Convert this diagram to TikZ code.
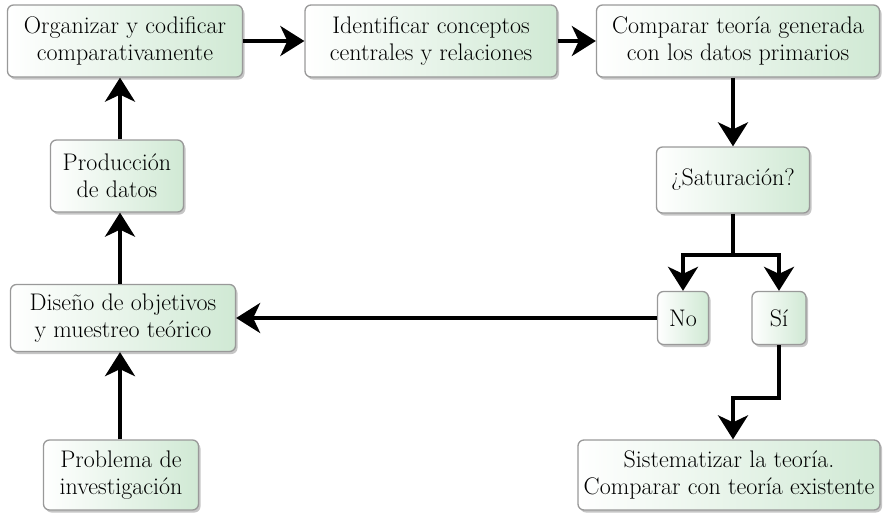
\documentclass[tikz,border=0pt]{standalone}
\usepackage{fontspec}
\usepackage{tikz}
\usetikzlibrary{shadows,arrows.meta,positioning}
\definecolor{verdeclaro}{RGB}{208,233,212}
\tikzstyle{caja}=[draw=gray!80, line width=1.3pt, rounded corners=6pt, left color=white, right color=verdeclaro, drop shadow={shadow xshift=2pt, shadow yshift=-2.5pt, opacity=0.45}, align=center, font=\fontsize{24}{27}\selectfont, inner sep=1pt]
\tikzstyle{arr}=[line width=3.8pt, -{Stealth[length=24pt,width=30pt,inset=7pt]}]

\begin{document}
\begin{tikzpicture}[x=1pt,y=-1pt]
	\useasboundingbox (0,0) rectangle (884,515);
	% fila superior
	\node[caja, minimum width=235, minimum height=72] (org) at (125, 41) {Organizar y codificar\\comparativamente};
	\node[caja, minimum width=252, minimum height=72] (ide) at (431, 41) {Identificar conceptos\\centrales y relaciones};
	\node[caja, minimum width=283, minimum height=72] (com) at (738, 41) {Comparar teoría generada\\con los datos primarios};
	% columna derecha
	\node[caja, minimum width=153, minimum height=66] (sat) at (733, 180) {¿Saturación?};
	\node[caja, minimum width=51, minimum height=53] (no) at (683, 318) {No};
	\node[caja, minimum width=54, minimum height=53] (si) at (779, 318) {Sí};
	\node[caja, minimum width=302, minimum height=70] (sis) at (729, 475) {Sistematizar la teoría.\\Comparar con teoría existente};
	% columna izquierda
	\node[caja, minimum width=133, minimum height=72] (pro) at (117, 176) {Producción\\de datos};
	\node[caja, minimum width=225, minimum height=67] (dis) at (123, 318) {Diseño de objetivos\\y muestreo teórico};
	\node[caja, minimum width=155, minimum height=70] (prb) at (121, 475) {Problema de\\investigación};
	\coordinate (split) at (733, 255);
	\coordinate (codo) at (779, 398);
	\coordinate (eje) at (120, 0);

	\draw[arr] (org) -- (ide);
	\draw[arr] (ide) -- (com);
	\draw[arr] (com.south -| sat) -- (sat);
	\draw[line width=3.8pt] (sat) -- (split);
	\draw[arr] (split) -| (no);
	\draw[arr] (split) -| (si);
	\draw[arr] (no) -- (dis);
	\draw[arr] (si) -- (codo) -| (sis.north -| split);
	\draw[arr] (prb.north -| eje) -- (dis.south -| eje);
	\draw[arr] (dis.north -| eje) -- (pro.south -| eje);
	\draw[arr] (pro.north -| eje) -- (org.south -| eje);
\end{tikzpicture}
\end{document}
